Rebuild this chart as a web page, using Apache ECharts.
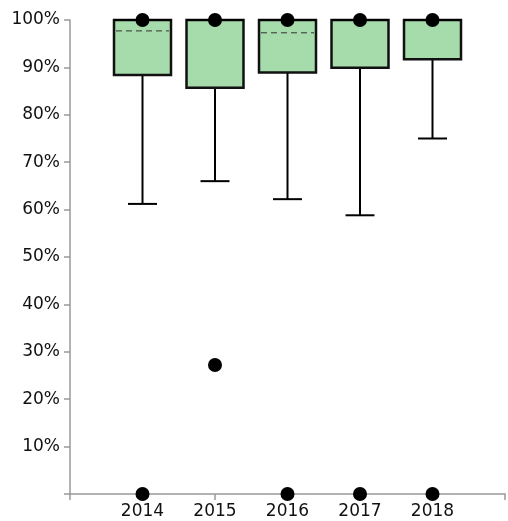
<!DOCTYPE html>
<html><head><meta charset="utf-8">
<script src="https://cdn.jsdelivr.net/npm/echarts@6/dist/echarts.min.js"></script>
<style>html,body{margin:0;padding:0;background:#fff}#c{width:508px;height:521px}</style>
</head><body><div id="c"></div>
<script>
const categories = ['', '2014', '2015', '2016', '2017', '2018', ''];
const years = ['2014', '2015', '2016', '2017', '2018'];
const whiskerLow = [61.2, 66.0, 62.2, 58.8, 75.0];
const q1 = [88.4, 85.7, 88.9, 89.9, 91.7];
const median = [100, 100, 100, 100, 100];
const q3 = [100, 100, 100, 100, 100];
const whiskerHigh = [100, 100, 100, 100, 100];
const mean = [97.7, null, 97.3, null, null];
const outlierYears = ['2014', '2015', '2016', '2017', '2018', '2014', '2015', '2016', '2017', '2018'];
const outlierValues = [100, 100, 100, 100, 100, 0, 27.2, 0, 0, 0];

const boxData = years.map((y, i) => [y, whiskerLow[i], q1[i], median[i], q3[i], whiskerHigh[i], mean[i] == null ? NaN : mean[i]]);
const outData = outlierYears.map((y, i) => [y, outlierValues[i]]);

const FONT = 'DejaVu Sans, Liberation Sans, Arial';
const chart = echarts.init(document.getElementById('c'));
chart.setOption({
  animation: false,
  grid: { left: 70, top: 20, width: 440, height: 474 },
  xAxis: {
    type: 'category', data: categories, boundaryGap: false,
    axisLine: { lineStyle: { color: '#999', width: 1.5 } },
    axisTick: { length: 6, lineStyle: { color: '#999', width: 1.5 } },
    axisLabel: { color: '#111', fontSize: 17, fontFamily: FONT, margin: 9 },
    splitLine: { show: false }
  },
  yAxis: {
    type: 'value', min: 0, max: 100, interval: 10,
    axisLine: { show: true, lineStyle: { color: '#999', width: 1.5 } },
    axisTick: { show: true, length: 6, lineStyle: { color: '#999', width: 1.5 } },
    axisLabel: { color: '#111', fontSize: 17, fontFamily: FONT, margin: 10,
      formatter: v => (v === 0 ? '' : v + '%') },
    splitLine: { show: false }
  },
  series: [
    {
      type: 'custom',
      data: boxData,
      encode: { x: 0, y: [1, 2, 3, 4, 5] },
      renderItem: function (params, api) {
        const x = api.value(0);
        const pLow = api.coord([x, api.value(1)]);
        const pQ1 = api.coord([x, api.value(2)]);
        const pMed = api.coord([x, api.value(3)]);
        const pQ3 = api.coord([x, api.value(4)]);
        const pHigh = api.coord([x, api.value(5)]);
        const mv = api.value(6);
        const bw = 57, cw = 29;
        const cx = pLow[0];
        const ls = { stroke: '#000', lineWidth: 2 };
        const children = [
          { type: 'line', shape: { x1: cx, y1: pLow[1], x2: cx, y2: pQ1[1] }, style: ls },
          { type: 'line', shape: { x1: cx - cw / 2, y1: pLow[1], x2: cx + cw / 2, y2: pLow[1] }, style: ls },
          { type: 'line', shape: { x1: cx, y1: pHigh[1], x2: cx, y2: pQ3[1] }, style: ls },
          { type: 'line', shape: { x1: cx - cw / 2, y1: pHigh[1], x2: cx + cw / 2, y2: pHigh[1] }, style: ls },
          { type: 'rect', shape: { x: cx - bw / 2, y: pQ3[1], width: bw, height: pQ1[1] - pQ3[1] },
            style: { fill: '#a6dbab', stroke: '#111', lineWidth: 2.5 } },
          { type: 'line', shape: { x1: cx - bw / 2, y1: pMed[1], x2: cx + bw / 2, y2: pMed[1] }, style: ls }
        ];
        if (!isNaN(mv)) {
          const pm = api.coord([x, mv]);
          children.push({ type: 'line', shape: { x1: cx - bw / 2 + 2, y1: pm[1], x2: cx + bw / 2 - 2, y2: pm[1] },
            style: { stroke: '#333', lineWidth: 1, lineDash: [6, 4] } });
        }
        return { type: 'group', children };
      },
      z: 2
    },
    {
      type: 'scatter',
      data: outData,
      symbol: 'circle', symbolSize: 14,
      itemStyle: { color: '#000', opacity: 1 },
      emphasis: { disabled: true },
      z: 5
    }
  ]
});
</script></body></html>
